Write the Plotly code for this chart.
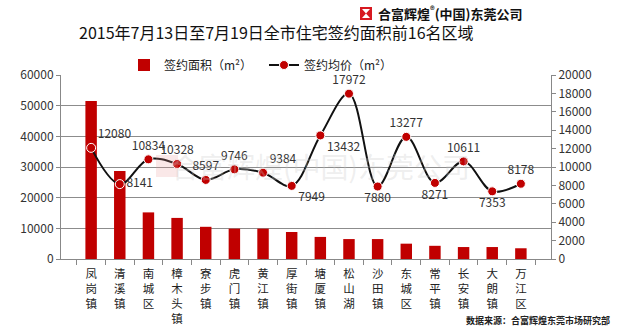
import plotly.graph_objects as go

categories = ["凤岗镇", "清溪镇", "南城区", "樟木头镇", "寮步镇", "虎门镇", "黄江镇", "厚街镇",
              "塘厦镇", "松山湖", "沙田镇", "东城区", "常平镇", "长安镇", "大朗镇", "万江区"]
area = [51500, 28700, 15200, 13400, 10500, 9900, 9900, 8800,
        7200, 6500, 6500, 5000, 4300, 3900, 3900, 3500]
price = [12080, 8141, 10834, 10328, 8597, 9746, 9384, 7949,
         13432, 17972, 7880, 13277, 8271, 10611, 7353, 8178]
label_pos = ["top right", "middle right", "top center", "top center", "top center", "top center",
             "top right", "bottom right", "bottom right", "top center", "bottom center",
             "top center", "bottom center", "top center", "bottom center", "top center"]

tick_text = ["<br>".join(list(c)) for c in categories]
FONT = "Noto Sans CJK SC"
RED = "#c00000"

L, R, T, B = 61, 551, 75, 259
def px(x):
    return (x - L) / (R - L)
def py(y):
    return (B - y) / (B - T)

fig = go.Figure()
fig.add_trace(go.Bar(x=categories, y=area, name="签约面积（m²）", marker_color=RED,
                     marker_line_width=0, yaxis="y", legend="legend"))
fig.add_trace(go.Scatter(x=categories, y=price, name="签约均价（m²）", yaxis="y2", legend="legend2",
                         mode="lines+markers+text", line=dict(color="#111111", width=2, shape="spline", smoothing=1.0),
                         marker=dict(color=RED, size=9, line=dict(color="white", width=1)),
                         text=[str(v) for v in price], textposition=label_pos,
                         textfont=dict(family=FONT, size=12, color="#333333"), cliponaxis=False))

leg_common = dict(orientation="h", xanchor="left", yanchor="middle",
                  font=dict(family=FONT, size=12, color="#222222"), bgcolor="rgba(0,0,0,0)",
                  itemwidth=30)
fig.update_layout(
    width=617, height=330,
    margin=dict(l=L, r=617 - R, t=T, b=330 - B, autoexpand=False),
    paper_bgcolor="white", plot_bgcolor="white",
    font=dict(family=FONT, color="#333333"),
    bargap=0.6,
    showlegend=True,
    legend=dict(x=px(124), y=py(65), **leg_common),
    legend2=dict(x=px(264), y=py(65), **leg_common),
    xaxis=dict(tickmode="array", tickvals=categories, ticktext=tick_text, automargin=False,
               tickfont=dict(family=FONT, size=11.5, color="#222222"),
               showline=True, linecolor="#888888", linewidth=1,
               ticks="outside", tickson="boundaries", ticklen=5, tickcolor="#888888",
               showgrid=False, ticklabelstandoff=4),
    yaxis=dict(range=[0, 60000], dtick=10000, showgrid=True, gridcolor="#8c8c8c", gridwidth=1,
               showline=True, linecolor="#888888", ticks="outside", ticklen=4, tickcolor="#888888",
               tickformat="d", automargin=False,
               tickfont=dict(family=FONT, size=12, color="#333333"), zeroline=False),
    yaxis2=dict(range=[0, 20000], dtick=2000, overlaying="y", side="right", showgrid=False,
                showline=True, linecolor="#888888", ticks="outside", ticklen=4, tickcolor="#888888",
                tickformat="d", automargin=False,
                tickfont=dict(family=FONT, size=12, color="#333333"), zeroline=False),
)

annotations = [
    dict(text="2015年7月13日至7月19日全市住宅签约面积前16名区域", x=px(276), y=py(32),
         font=dict(family=FONT, size=16, color="#111111")),
    dict(text="<b>合富辉煌<sup>®</sup>(中国)东莞公司</b>", x=px(376), y=py(13), xanchor="left",
         font=dict(family=FONT, size=13, color="#111111")),
    dict(text="<b>数据来源：合富辉煌东莞市场研究部</b>", x=px(612), y=py(320), xanchor="right",
         font=dict(family=FONT, size=9, color="#222222")),
    dict(text="合富辉煌(中国)东莞公司", x=px(320), y=py(166),
         font=dict(family=FONT, size=28, color="rgba(200,200,200,0.3)")),
]
for a in annotations:
    a.setdefault("xanchor", "center")
    a.update(xref="paper", yref="paper", yanchor="middle", showarrow=False)
fig.update_layout(annotations=annotations)

def pp(x, y):
    return f"{px(x)} {py(y)}"
hour = f"M {pp(362,9)} L {pp(370,9)} L {pp(366,13.5)} Z M {pp(362,18)} L {pp(370,18)} L {pp(366,13.5)} Z"
shapes = [
    dict(type="rect", x0=px(360), x1=px(372), y0=py(20), y1=py(7), fillcolor="#d71920", line_width=0,
         xref="paper", yref="paper"),
    dict(type="path", path=hour, fillcolor="white", line_width=0, xref="paper", yref="paper"),
    dict(type="rect", x0=px(156), x1=px(178), y0=py(177), y1=py(155),
         fillcolor="rgba(230,150,150,0.22)", line_width=0, xref="paper", yref="paper"),
]
fig.update_layout(shapes=shapes)

fig.write_html("out.html")
